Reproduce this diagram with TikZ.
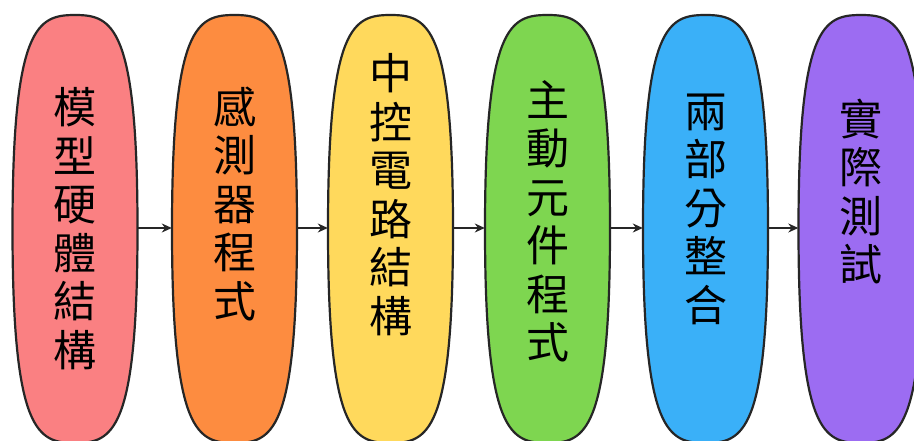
\documentclass[tikz,border=0pt]{standalone}
\usepackage{fontspec}
\newfontfamily\cjk{Noto Sans CJK TC}
\usetikzlibrary{arrows.meta}
\definecolor{cpink}{RGB}{250,128,130}
\definecolor{corange}{RGB}{253,140,64}
\definecolor{cyellow}{RGB}{255,217,92}
\definecolor{cgreen}{RGB}{126,214,80}
\definecolor{cblue}{RGB}{58,176,248}
\definecolor{cpurple}{RGB}{156,108,242}
\tikzset{
  slot/.style={rectangle, minimum width=125pt, minimum height=428pt, inner sep=0pt},
  ovalline/.style={draw=black!85, line width=2.2pt},
  vtext/.style={font=\cjk\fontsize{43}{48.5}\selectfont, align=center, inner sep=0pt, text=black},
  flow/.style={-{Stealth[length=10pt,width=9pt]}, line width=1.2pt, black!85}
}
\newcommand\myoval[2]{%
  \filldraw[ovalline, fill=#2, shift={(#1.center)}]
    (0,-214) .. controls (37.5,-214) and (62.5,-203.3) .. (62.5,0)
    .. controls (62.5,203.3) and (37.5,214) .. (0,214)
    .. controls (-37.5,214) and (-62.5,203.3) .. (-62.5,0)
    .. controls (-62.5,-203.3) and (-37.5,-214) .. (0,-214) -- cycle;}
\begin{document}
\begin{tikzpicture}[x=1pt,y=-1pt]
\useasboundingbox (0,0) rectangle (914,441);
\fill[white] (0,0) rectangle (914,441);
\clip (0,0) rectangle (914,441);
\node[slot] (e1) at (75,229) {};
\node[slot] (e2) at (234.5,229) {};
\node[slot] (e3) at (390.5,229) {};
\node[slot] (e4) at (547.5,229) {};
\node[slot] (e5) at (705.5,229) {};
\node[slot] (e6) at (861,229) {};
\myoval{e1}{cpink}
\myoval{e2}{corange}
\myoval{e3}{cyellow}
\myoval{e4}{cgreen}
\myoval{e5}{cblue}
\myoval{e6}{cpurple}
\node[vtext] (t1) at (75,228.5) {模\\型\\硬\\體\\結\\構};
\node[vtext] (t2) at (234.5,203.5) {感\\測\\器\\程\\式};
\node[vtext] (t3) at (390.5,194.5) {中\\控\\電\\路\\結\\構};
\node[vtext] (t4) at (547.5,221.5) {主\\動\\元\\件\\程\\式};
\node[vtext] (t5) at (705.5,209) {兩\\部\\分\\整\\合};
\node[vtext] (t6) at (861,191.5) {實\\際\\測\\試};
\draw[flow] ([yshift=1pt]e1.east) -- ([yshift=1pt]e2.west);
\draw[flow] ([yshift=1pt]e2.east) -- ([yshift=1pt]e3.west);
\draw[flow] ([yshift=1pt]e3.east) -- ([yshift=1pt]e4.west);
\draw[flow] ([yshift=1pt]e4.east) -- ([yshift=1pt]e5.west);
\draw[flow] ([yshift=1pt]e5.east) -- ([yshift=1pt]e6.west);
\end{tikzpicture}
\end{document}
